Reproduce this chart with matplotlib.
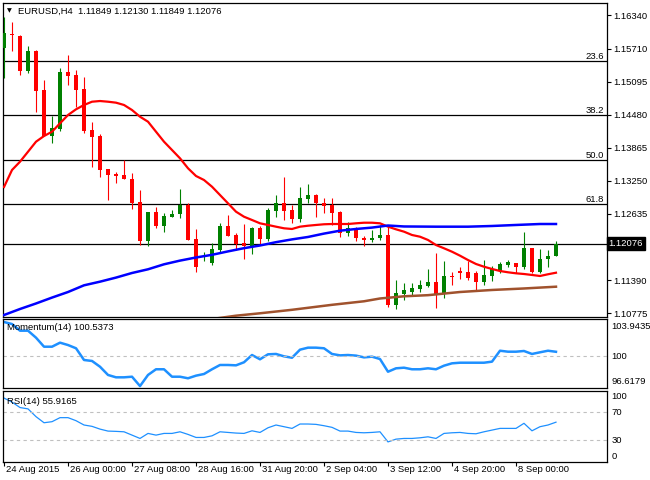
import matplotlib
matplotlib.use("Agg")
import matplotlib.pyplot as plt
import matplotlib.transforms as mtransforms
import numpy as np

plt.rcParams["font.family"] = ["Liberation Sans", "DejaVu Sans"]
plt.rcParams["font.size"] = 6.8

W, H = 650, 480

# ---- EURUSD H4 candles ----
opens = [1.15724, 1.15986, 1.15948, 1.15295, 1.15668, 1.14941, 1.14082, 1.14213, 1.15282, 1.15221,
         1.14959, 1.14194, 1.14082, 1.13467, 1.13364, 1.13355, 1.13280, 1.12851, 1.12129, 1.12670,
         1.12403, 1.12576, 1.12627, 1.12795, 1.12160, 1.11815, 1.11718, 1.11955, 1.12403, 1.12235,
         1.12086, 1.12035, 1.12360, 1.12160, 1.12683, 1.12826, 1.12701, 1.12533, 1.12907, 1.12981,
         1.12826, 1.12795, 1.12658, 1.12278, 1.12347, 1.12185, 1.12142, 1.12185, 1.12235, 1.10929,
         1.11134, 1.11171, 1.11222, 1.11283, 1.11358, 1.11134, 1.11470, 1.11550, 1.11545, 1.11520,
         1.11364, 1.11475, 1.11563, 1.11675, 1.11718, 1.11643, 1.11987, 1.11545, 1.11781, 1.11849]
highs = [1.16308, 1.16210, 1.15967, 1.15762, 1.15687, 1.15127, 1.14455, 1.15351, 1.15594, 1.15314,
         1.15183, 1.14349, 1.14120, 1.13467, 1.13411, 1.13634, 1.13392, 1.13075, 1.12670, 1.12763,
         1.12645, 1.12701, 1.13093, 1.12832, 1.12347, 1.11918, 1.12086, 1.12459, 1.12608, 1.12267,
         1.12440, 1.12390, 1.12403, 1.12744, 1.12981, 1.13323, 1.12795, 1.13125, 1.13187, 1.13000,
         1.12920, 1.12920, 1.12683, 1.12483, 1.12390, 1.12222, 1.12328, 1.12422, 1.12390, 1.11395,
         1.11345, 1.11345, 1.11395, 1.11595, 1.11905, 1.11750, 1.11545, 1.11643, 1.11750, 1.11563,
         1.11768, 1.11662, 1.11737, 1.11768, 1.11718, 1.12297, 1.11987, 1.11968, 1.11955, 1.12130]
lows = [1.15165, 1.15674, 1.15221, 1.15258, 1.14536, 1.14082, 1.13952, 1.14181, 1.15034, 1.14629,
        1.14144, 1.13504, 1.13323, 1.12888, 1.13205, 1.13280, 1.12720, 1.12048, 1.12030, 1.12366,
        1.12297, 1.12571, 1.12558, 1.12142, 1.11550, 1.11755, 1.11681, 1.11923, 1.12222, 1.11955,
        1.11787, 1.11880, 1.12067, 1.12129, 1.12576, 1.12515, 1.12453, 1.12472, 1.12826, 1.12576,
        1.12640, 1.12422, 1.12203, 1.12222, 1.12129, 1.12035, 1.12110, 1.12142, 1.10886, 1.10849,
        1.11022, 1.11115, 1.11177, 1.11259, 1.10878, 1.11054, 1.11302, 1.11408, 1.11395, 1.11209,
        1.11302, 1.11377, 1.11520, 1.11632, 1.11520, 1.11601, 1.11520, 1.11520, 1.11643, 1.11849]
closes = [1.16004, 1.15967, 1.15295, 1.15668, 1.14928, 1.14082, 1.14237, 1.15282, 1.15207, 1.14941,
          1.14181, 1.14069, 1.13448, 1.13360, 1.13345, 1.13280, 1.12832, 1.12129, 1.12670, 1.12408,
          1.12589, 1.12627, 1.12795, 1.12142, 1.11643, 1.11843, 1.11974, 1.12403, 1.12222, 1.12067,
          1.12035, 1.12360, 1.12160, 1.12701, 1.12826, 1.12683, 1.12533, 1.12931, 1.12981, 1.12826,
          1.12782, 1.12651, 1.12278, 1.12360, 1.12185, 1.12142, 1.12185, 1.12235, 1.10929, 1.11147,
          1.11209, 1.11246, 1.11302, 1.11358, 1.11134, 1.11470, 1.11446, 1.11535, 1.11433, 1.11364,
          1.11489, 1.11601, 1.11694, 1.11726, 1.11643, 1.11987, 1.11550, 1.11781, 1.11843, 1.12076]

# moving averages
ma_red = [1.13131, 1.13448, 1.13603, 1.13789, 1.13976, 1.14082, 1.14162, 1.14319, 1.14474, 1.14580,
          1.14661, 1.14722, 1.14735, 1.14722, 1.14704, 1.14661, 1.14567, 1.14442, 1.14349, 1.14162,
          1.13976, 1.13821, 1.13666, 1.13480, 1.13336, 1.13261, 1.13136, 1.12981, 1.12826, 1.12670,
          1.12576, 1.12515, 1.12453, 1.12422, 1.12390, 1.12360, 1.12347, 1.12390, 1.12408, 1.12422,
          1.12435, 1.12440, 1.12440, 1.12440, 1.12453, 1.12464, 1.12464, 1.12453, 1.12390, 1.12341,
          1.12297, 1.12235, 1.12203, 1.12142, 1.12048, 1.11987, 1.11923, 1.11849, 1.11768, 1.11694,
          1.11643, 1.11601, 1.11563, 1.11539, 1.11520, 1.11507, 1.11489, 1.11470, 1.11502, 1.11531]
ma_blue_idx = [0, 2, 4, 6, 8, 10, 12, 14, 16, 18, 20, 22, 24, 26, 28, 30, 32, 34, 36, 38,
               40, 42, 44, 46, 48, 50, 54, 58, 61, 64, 67, 69]
ma_blue = [1.10742, 1.10854, 1.10957, 1.11067, 1.11171, 1.11296, 1.11364, 1.11440, 1.11526, 1.11595,
           1.11688, 1.11757, 1.11815, 1.11865, 1.11929, 1.11989, 1.12039, 1.12101, 1.12153, 1.12198,
           1.12261, 1.12315, 1.12347, 1.12373, 1.12412, 1.12394, 1.12390, 1.12390, 1.12403, 1.12422,
           1.12440, 1.12440]
ma_brown_idx = [26, 29, 32, 36, 41, 45, 47, 50, 53, 57, 61, 65, 69]
ma_brown = [1.10667, 1.10729, 1.10774, 1.10839, 1.10932, 1.10998, 1.11050, 1.11091, 1.11112,
            1.11171, 1.11209, 1.11237, 1.11270]

fib_levels = [1.15475, 1.14465, 1.13643, 1.12821]
fib_labels = ["23.6", "38.2", "50.0", "61.8"]
last_price = 1.12076
price_ticks = [1.16340, 1.15710, 1.15095, 1.14480, 1.13865, 1.13250, 1.12635, 1.11390, 1.10775]

momentum = [103.94, 103.71, 102.95, 102.95, 102.15, 101.12, 101.12, 101.58, 101.31, 100.94,
            99.60, 99.49, 98.83, 97.89, 97.62, 97.62, 97.69, 96.62, 97.89, 98.54,
            98.54, 97.69, 97.69, 97.51, 97.81, 98.00, 98.54, 99.03, 99.03, 98.99,
            99.34, 100.17, 99.68, 100.25, 100.29, 100.02, 99.86, 100.78, 101.01, 101.01,
            100.94, 100.29, 100.13, 100.17, 100.10, 99.90, 99.98, 99.71, 98.26, 98.65,
            98.72, 98.54, 98.54, 98.65, 98.54, 98.95, 99.22, 99.29, 99.29, 99.29,
            99.29, 99.41, 100.66, 100.55, 100.55, 100.63, 100.29, 100.48, 100.66, 100.54]
rsi = [90.0, 84.3, 76.6, 74.7, 63.7, 55.1, 56.6, 62.3, 62.3, 58.0,
       51.9, 50.0, 46.1, 43.3, 42.9, 42.3, 37.6, 32.9, 40.0, 37.6,
       40.0, 40.0, 42.3, 38.6, 34.3, 34.3, 36.6, 42.3, 41.4, 40.5,
       40.0, 43.7, 41.4, 48.0, 51.9, 49.5, 47.1, 53.3, 53.3, 52.8,
       50.9, 48.6, 43.3, 43.3, 41.4, 40.9, 41.4, 42.3, 28.0, 31.9,
       32.9, 32.9, 33.8, 35.2, 32.9, 40.0, 40.9, 41.4, 40.0, 39.5,
       42.3, 44.7, 47.1, 47.1, 47.1, 54.3, 43.7, 49.5, 51.9, 55.9]

date_idx = [0, 8, 16, 24, 32, 40, 48, 56, 64]
date_labels = ["24 Aug 2015", "26 Aug 00:00", "27 Aug 08:00", "28 Aug 16:00", "31 Aug 20:00",
               "2 Sep 04:00", "3 Sep 12:00", "4 Sep 20:00", "8 Sep 00:00"]

BULL, BEAR = "#008000", "#ff0000"
LINE_BLUE = "#1e90ff"


def px_rect(x0, y0, x1, y1):
    return [x0 / W, 1 - y1 / H, (x1 - x0) / W, (y1 - y0) / H]


def frame(ax):
    for s in ax.spines.values():
        s.set_linewidth(0.9)
        s.set_color("black")
    ax.set_xlim(-0.19, 75.34)
    ax.set_xticks([])


fig = plt.figure(figsize=(W / 100, H / 100), dpi=100)
fig.patch.set_facecolor("white")

ax = fig.add_axes(px_rect(2.5, 3, 606.7, 316.5))
am = fig.add_axes(px_rect(2.5, 318.5, 606.7, 387.7))
ar = fig.add_axes(px_rect(2.5, 391, 606.7, 461.7))
for a in (ax, am, ar):
    frame(a)

# ---- main price panel ----
x = np.arange(len(opens))
o, h, l, c = map(np.array, (opens, highs, lows, closes))
col = np.where(c >= o, BULL, BEAR)
ax.vlines(x, l, h, colors=col, linewidth=0.8, zorder=3)
body_lo = np.minimum(o, c)
body_h = np.maximum(np.abs(c - o), 0.00019)
ax.bar(x, body_h, bottom=body_lo, width=0.62, color=col, linewidth=0, zorder=4)

ax.plot(x, ma_red, color="#ff0000", lw=1.6, zorder=5)
ax.plot(ma_blue_idx, ma_blue, color="#0000ff", lw=1.8, zorder=5)
ax.plot(ma_brown_idx, ma_brown, color="#a0522d", lw=1.8, zorder=5)

ytr = ax.get_yaxis_transform()
for lv, lab in zip(fib_levels, fib_labels):
    ax.axhline(lv, color="black", lw=0.9, zorder=2)
    ax.text(0.996, lv, lab, transform=ytr, ha="right", va="bottom", fontsize=6.8)
ax.axhline(last_price, color="black", lw=0.9, zorder=2)

ax.set_ylim(1.10714, 1.16564)
ax.yaxis.tick_right()
ax.set_yticks(price_ticks)
ax.set_yticklabels([f"{p:.5f}" for p in price_ticks])
ax.tick_params(axis="y", length=3, width=0.8, pad=2, labelsize=6.8)
ax.text(1.003, last_price, f"{last_price:.5f}", transform=ytr, ha="left", va="center",
        color="white", fontsize=6.8,
        bbox=dict(boxstyle="square,pad=0.2", fc="black", ec="black"))

fig.text(7 / W, 1 - 11 / H, "\u25bc", fontsize=4.5, va="center", ha="left",
         family="DejaVu Sans")
fig.text(18 / W, 1 - 11 / H, "EURUSD,H4  1.11849 1.12130 1.11849 1.12076",
         va="center", ha="left")

# ---- momentum panel ----
am.plot(x, momentum, color=LINE_BLUE, lw=1.8)
am.axhline(100, color="#c0c0c0", lw=0.8, ls=(0, (3, 3)))
am.set_ylim(96.434, 104.343)
am.set_yticks([])
mtr = am.get_yaxis_transform()
am.text(1.008, 103.9435, "103.9435", transform=mtr, va="top", ha="left")
am.text(1.008, 100, "100", transform=mtr, va="center", ha="left")
am.text(1.008, 96.6179, "96.6179", transform=mtr, va="bottom", ha="left")
am.text(0.008, 0.93, "Momentum(14) 100.5373", transform=am.transAxes, va="top", ha="left")

# ---- RSI panel ----
ar.plot(x, rsi, color=LINE_BLUE, lw=0.9)
for lv in (70, 30):
    ar.axhline(lv, color="#c0c0c0", lw=0.8, ls=(0, (3, 3)))
ar.set_ylim(0, 100)
ar.set_yticks([])
rtr = ar.get_yaxis_transform()
ar.text(1.008, 99, "100", transform=rtr, va="top", ha="left")
ar.text(1.008, 70, "70", transform=rtr, va="center", ha="left")
ar.text(1.008, 30, "30", transform=rtr, va="center", ha="left")
ar.text(1.008, 1, "0", transform=rtr, va="bottom", ha="left")
ar.text(0.008, 0.92, "RSI(14) 55.9165", transform=ar.transAxes, va="top", ha="left")

ar.set_xticks(date_idx)
ar.set_xticklabels([])
ar.tick_params(axis="x", length=3, width=0.8, direction="out")
xtr = ar.get_xaxis_transform()
for i, lab in zip(date_idx, date_labels):
    ar.text(i + 0.25, -0.05, lab, transform=xtr, ha="left", va="top")

fig.savefig("out.png", dpi=100, facecolor="white")
